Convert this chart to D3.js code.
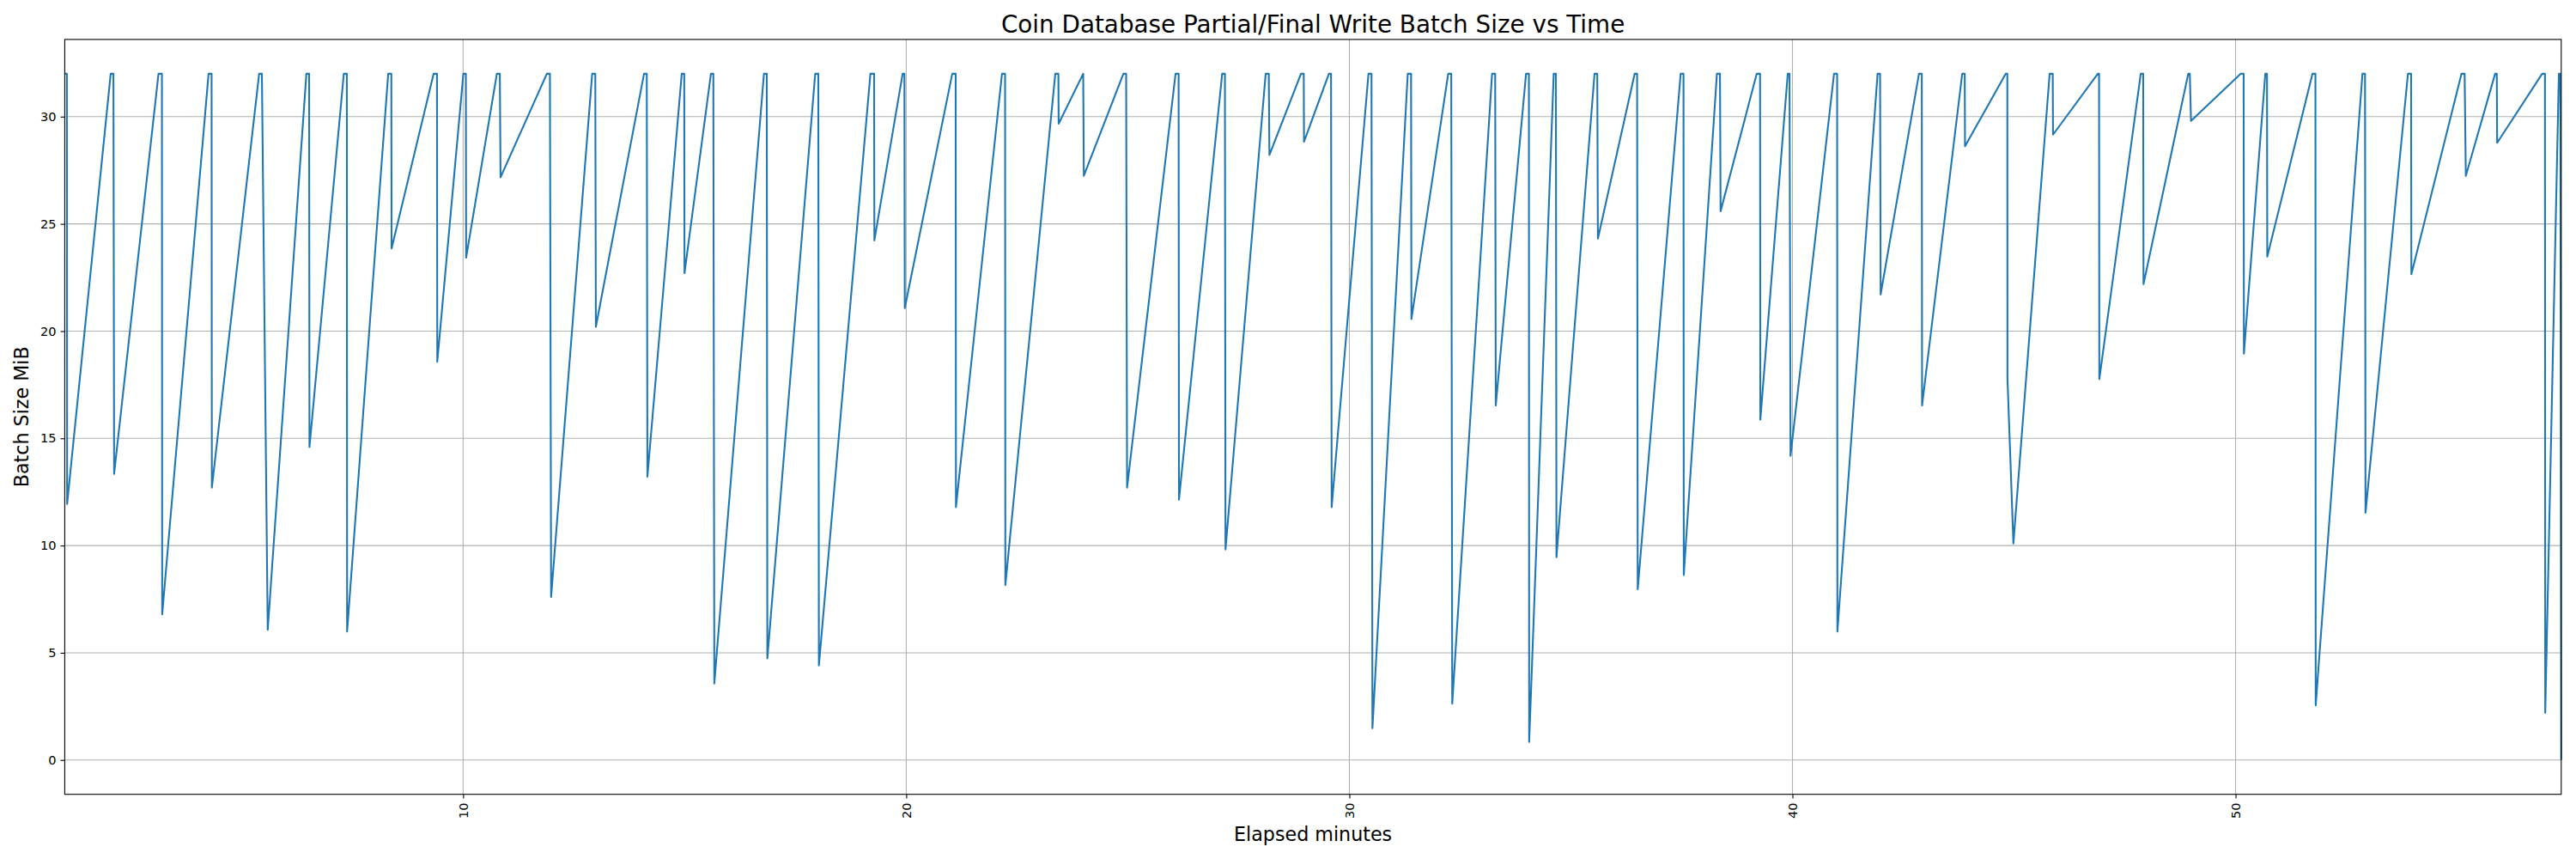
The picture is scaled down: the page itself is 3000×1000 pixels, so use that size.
<!DOCTYPE html>
<html><head><meta charset="utf-8">
<script src="https://cdn.jsdelivr.net/npm/d3@7"></script>
<style>
body{margin:0;background:#fff}
svg{display:block}
text{font-family:"DejaVu Sans",sans-serif;fill:#000}
</style>
</head><body>
<svg id="chart" width="3000" height="1000"></svg>
<script>
const chartTitle = "Coin Database Partial/Final Write Batch Size vs Time";
const xLabel = "Elapsed minutes";
const yLabel = "Batch Size MiB";
const xTicks = [10, 20, 30, 40, 50];
const yTicks = [0, 5, 10, 15, 20, 25, 30];

const minutes = [
  1.010, 1.058, 1.064,  2.047, 2.109, 2.124,  3.126, 3.203, 3.209,  4.256, 4.324, 4.330,
  5.397, 5.459, 5.591,  6.463, 6.525, 6.533,  7.308, 7.376, 7.382,  8.310, 8.380, 8.386,
  9.335, 9.411, 9.417,  10.006, 10.062, 10.068,
  10.762, 10.829, 10.845,  11.890, 11.959, 11.986,  12.913, 12.983, 12.996,  14.083, 14.145, 14.159,
  14.934, 14.990, 14.996,  15.593, 15.647, 15.669,  16.789, 16.853, 16.866,  17.946, 18.016, 18.029,
  19.192, 19.275, 19.281,  19.919, 19.959, 19.967,
  21.039, 21.116, 21.122,  22.161, 22.231, 22.237,  23.364, 23.434, 23.440,  23.994, 24.008,
  24.901, 24.963, 24.984,  26.078, 26.147, 26.155,  27.130, 27.192, 27.205,  28.112, 28.182, 28.196,
  28.909, 28.971, 28.977,  29.539, 29.587, 29.601,
  30.432, 30.500, 30.521,  31.318, 31.393, 31.401,  32.231, 32.300, 32.322,  33.221, 33.291, 33.304,
  33.988, 34.052, 34.058,  34.612, 34.661, 34.674,  35.533, 35.595, 35.609,  36.440, 36.494, 36.508,
  37.477, 37.541, 37.547,  38.295, 38.364, 38.378,  39.194, 39.269, 39.275,
  39.894, 39.934, 39.956,  40.938, 41.008, 41.014,  41.921, 41.977, 41.990,  42.855, 42.919, 42.925,
  43.831, 43.888, 43.894,  44.814, 44.849, 44.852, 44.986,  45.804, 45.874, 45.880,  46.891, 46.919, 46.925,
  47.860, 47.915, 47.922,  48.932, 48.967, 48.994,
  50.118, 50.182, 50.188,  50.671, 50.709, 50.715,  51.736, 51.802, 51.808,  52.863, 52.921, 52.932,
  53.890, 53.961, 53.967,  55.099, 55.169, 55.196,  55.857, 55.895, 55.903,  56.919, 56.982, 56.988,
  57.296, 57.329, 57.349
];
const batchMiB = [
  32, 32, 11.94,  32, 32, 13.34,  32, 32, 6.79,  32, 32, 12.70,
  32, 32, 6.07,  32, 32, 14.59,  32, 32, 5.99,  32, 32, 23.85,
  32, 32, 18.57,  32, 32, 23.42,
  32, 32, 27.17,  32, 32, 7.60,  32, 32, 20.20,  32, 32, 13.21,
  32, 32, 22.70,  32, 32, 3.57,  32, 32, 4.74,  32, 32, 4.41,
  32, 32, 24.23,  32, 32, 21.07,
  32, 32, 11.79,  32, 32, 8.16,  32, 32, 29.67,  32, 27.24,
  32, 32, 12.70,  32, 32, 12.14,  32, 32, 9.82,  32, 32, 28.21,
  32, 32, 28.83,  32, 32, 11.79,
  32, 32, 1.48,  32, 32, 20.56,  32, 32, 2.63,  32, 32, 16.53,
  32, 32, 0.84,  32, 32, 9.46,  32, 32, 24.31,  32, 32, 7.96,
  32, 32, 8.62,  32, 32, 25.59,  32, 32, 15.87,
  32, 32, 14.18,  32, 32, 5.99,  32, 32, 21.71,  32, 32, 16.53,
  32, 32, 28.62,  32, 32, 17.81, 10.10,  32, 32, 29.16,  32, 32, 17.76,
  32, 32, 22.19,  32, 32, 29.80,
  32, 32, 18.95,  32, 32, 23.47,  32, 32, 2.55,  32, 32, 11.53,
  32, 32, 22.65,  32, 32, 27.24,  32, 32, 28.78,  32, 32, 2.2,
  32, 32, 0
];

const points = minutes.map((m, i) => ({m, v: batchMiB[i]}));

const margin = {left: 75.4, right: 3000 - 2982.8, top: 45.9, bottom: 1000 - 924.7};
const W = 3000, H = 1000;
const iw = W - margin.left - margin.right, ih = H - margin.top - margin.bottom;

const svg = d3.select("#chart");
svg.append("rect").attr("width", W).attr("height", H).attr("fill", "#fff");
const g = svg.append("g").attr("transform", `translate(${margin.left},${margin.top})`);

const x = d3.scaleLinear().domain(d3.extent(minutes)).range([0, iw]);
const yMin = d3.min(batchMiB), yMax = d3.max(batchMiB), pad = (yMax - yMin) * 0.05;
const y = d3.scaleLinear().domain([yMin - pad, yMax + pad]).range([ih, 0]);

// grid
g.append("g").selectAll("line.gx").data(xTicks).join("line")
  .attr("x1", d => x(d)).attr("x2", d => x(d)).attr("y1", 0).attr("y2", ih)
  .attr("stroke", "#b0b0b0").attr("stroke-width", 1.1);
g.append("g").selectAll("line.gy").data(yTicks).join("line")
  .attr("y1", d => y(d)).attr("y2", d => y(d)).attr("x1", 0).attr("x2", iw)
  .attr("stroke", "#b0b0b0").attr("stroke-width", 1.1);

// line
const line = d3.line().x(d => x(d.m)).y(d => y(d.v));
g.append("path").datum(points).attr("d", line)
  .attr("fill", "none").attr("stroke", "#1f77b4").attr("stroke-width", 2.1)
  .attr("stroke-linejoin", "round");

// axes
const xAxis = g.append("g").attr("transform", `translate(0,${ih})`)
  .call(d3.axisBottom(x).tickValues(xTicks).tickSize(4.9).tickPadding(4.9).tickFormat(d3.format("d")));
xAxis.select(".domain").remove();
xAxis.selectAll(".tick line").attr("stroke", "#000").attr("stroke-width", 1.1);
xAxis.selectAll(".tick text")
  .attr("transform", "rotate(-90)").attr("x", -9.8).attr("y", 0).attr("dy", "0.35em")
  .attr("text-anchor", "end").style("font-size", "14.6px").style("font-family", "DejaVu Sans");

const yAxis = g.append("g")
  .call(d3.axisLeft(y).tickValues(yTicks).tickSize(4.9).tickPadding(4.9).tickFormat(d3.format("d")));
yAxis.select(".domain").remove();
yAxis.selectAll(".tick line").attr("stroke", "#000").attr("stroke-width", 1.1);
yAxis.selectAll(".tick text").style("font-size", "14.6px").style("font-family", "DejaVu Sans");

// spines
g.append("rect").attr("width", iw).attr("height", ih)
  .attr("fill", "none").attr("stroke", "#000").attr("stroke-width", 1.1);

// labels
svg.append("text").attr("x", margin.left + iw / 2).attr("y", 37.6)
  .attr("text-anchor", "middle").style("font-size", "27.8px").text(chartTitle);
svg.append("text").attr("x", margin.left + iw / 2).attr("y", 979)
  .attr("text-anchor", "middle").style("font-size", "22.2px").text(xLabel);
svg.append("text").attr("transform", `translate(33,${margin.top + ih / 2}) rotate(-90)`)
  .attr("text-anchor", "middle").style("font-size", "22.2px").text(yLabel);
</script>
</body></html>
